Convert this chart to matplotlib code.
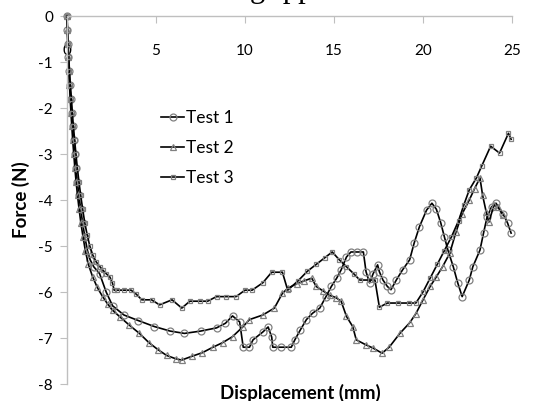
import matplotlib
matplotlib.use("Agg")
import matplotlib.pyplot as plt
from matplotlib.ticker import FixedLocator

plt.rcParams['font.family'] = ['Lato', 'DejaVu Sans']

# ---------------- data ----------------
test1_x = [0, 0.02, 0.05, 0.08, 0.12, 0.16, 0.21, 0.26, 0.31, 0.37, 0.43, 0.5, 0.58, 0.67,
           0.77, 0.88, 1.0, 1.15, 1.3, 1.5, 1.83, 2.2, 2.56, 3.2, 4.0, 4.9, 5.8, 6.6, 7.5, 8.4,
           8.9, 9.3, 9.7, 9.9, 10.25, 10.45, 11.0, 11.3, 11.5, 11.56, 12.0, 12.6, 12.8, 13.1,
           13.45, 13.8, 14.2, 14.55, 14.85, 15.15, 15.4, 15.7, 15.95, 16.3, 16.65, 16.8, 17.0,
           17.2, 17.45, 17.55, 17.75, 18.0, 18.2, 18.5, 18.85, 19.25, 19.5, 19.8, 20.2, 20.5,
           20.75, 21.0, 21.2, 21.4, 21.7, 21.95, 22.2, 22.6, 22.8, 23.2, 23.4, 23.6, 23.85,
           24.1, 24.5, 24.75, 24.95]
test1_y = [0, -0.3, -0.6, -0.9, -1.2, -1.5, -1.8, -2.1, -2.4, -2.7, -3.0, -3.3, -3.6, -3.9,
           -4.2, -4.5, -4.8, -5.1, -5.3, -5.45, -5.6, -6.0, -6.3, -6.5, -6.62, -6.75, -6.85,
           -6.9, -6.85, -6.78, -6.68, -6.52, -6.65, -7.2, -7.2, -7.04, -6.87, -6.76, -6.98,
           -7.2, -7.2, -7.2, -7.04, -6.83, -6.6, -6.46, -6.35, -6.1, -5.88, -5.7, -5.52, -5.24,
           -5.13, -5.13, -5.13, -5.56, -5.8, -5.6, -5.41, -5.56, -5.74, -5.88, -5.95, -5.74,
           -5.52, -5.3, -4.94, -4.58, -4.22, -4.07, -4.2, -4.5, -4.8, -5.09, -5.45, -5.8, -6.1,
           -5.74, -5.45, -5.09, -4.72, -4.37, -4.15, -4.07, -4.3, -4.5, -4.72]

test2_x = [0, 0.02, 0.04, 0.07, 0.1, 0.14, 0.18, 0.22, 0.27, 0.32, 0.38, 0.44, 0.51, 0.59,
           0.68, 0.78, 0.9, 1.03, 1.2, 1.44, 1.7, 2.0, 2.3, 2.57, 3.0, 3.5, 4.07, 4.6, 5.1,
           5.6, 6.1, 6.44, 7.0, 7.6, 8.2, 8.75, 9.3, 9.9, 10.25, 11.0, 11.65, 12.1, 12.4, 12.9,
           13.3, 13.75, 14.0, 14.4, 14.75, 15.1, 15.4, 15.7, 16.05, 16.25, 16.8, 17.2, 17.7,
           18.1, 18.7, 19.25, 19.6, 20.0, 20.4, 20.75, 21.1, 21.5, 21.85, 22.2, 22.6, 22.9,
           23.2, 23.35, 23.55, 23.7, 24.0, 24.2, 24.5]
test2_y = [0, -0.3, -0.6, -0.9, -1.2, -1.5, -1.8, -2.1, -2.4, -2.7, -3.0, -3.3, -3.6, -3.9,
           -4.2, -4.5, -4.8, -5.1, -5.4, -5.67, -5.9, -6.1, -6.27, -6.4, -6.55, -6.72, -6.9,
           -7.1, -7.25, -7.38, -7.45, -7.48, -7.4, -7.32, -7.2, -7.1, -6.97, -6.75, -6.6,
           -6.5, -6.35, -6.03, -5.92, -5.82, -5.76, -5.7, -5.88, -5.98, -6.07, -6.12, -6.2,
           -6.53, -6.75, -7.04, -7.15, -7.22, -7.33, -7.2, -6.9, -6.67, -6.47, -6.17, -5.88,
           -5.67, -5.45, -5.16, -4.7, -4.3, -4.0, -3.75, -3.52, -3.9, -4.26, -4.48, -4.1,
           -4.15, -4.33]

test3_x = [0, 0.03, 0.06, 0.1, 0.14, 0.19, 0.25, 0.3, 0.36, 0.43, 0.5, 0.58, 0.67, 0.77,
           0.88, 1.0, 1.13, 1.28, 1.45, 1.65, 1.85, 2.0, 2.2, 2.4, 2.55, 2.65, 2.8, 3.2, 3.6,
           3.9, 4.2, 4.75, 5.2, 5.9, 6.45, 6.9, 7.45, 7.9, 8.4, 8.95, 9.5, 10.0, 10.4, 11.0,
           11.5, 12.1, 12.4, 13.0, 13.5, 14.0, 14.5, 14.9, 15.3, 15.7, 16.1, 16.45, 17.0,
           17.3, 17.55, 18.0, 18.6, 19.2, 19.6, 20.0, 20.4, 20.8, 21.2, 21.6, 22.0, 22.3,
           22.6, 23.0, 23.3, 23.8, 24.3, 24.8, 24.95]
test3_y = [0, -0.3, -0.6, -0.9, -1.2, -1.5, -1.8, -2.1, -2.4, -2.7, -3.0, -3.3, -3.6, -3.9,
           -4.2, -4.5, -4.75, -5.0, -5.2, -5.35, -5.45, -5.52, -5.6, -5.67, -5.8, -5.96,
           -5.96, -5.96, -5.96, -6.05, -6.17, -6.17, -6.28, -6.17, -6.35, -6.2, -6.2, -6.2,
           -6.1, -6.1, -6.1, -5.96, -5.96, -5.8, -5.57, -5.57, -5.96, -5.75, -5.55, -5.4,
           -5.25, -5.13, -5.3, -5.45, -5.6, -5.74, -5.74, -5.74, -6.33, -6.24, -6.24, -6.24,
           -6.24, -6.0, -5.7, -5.4, -5.1, -4.8, -4.45, -4.1, -3.78, -3.52, -3.26, -2.83,
           -2.98, -2.55, -2.68]

x_ticks = [0, 5, 10, 15, 20, 25]
y_ticks = [0, -1, -2, -3, -4, -5, -6, -7, -8]
labels = ["Test 1", "Test 2", "Test 3"]

# ---------------- figure ----------------
fig = plt.figure(figsize=(5.41, 4.01), dpi=100)
ax = fig.add_axes([67 / 541, 1 - 384 / 401, 445 / 541, 368 / 401])
ax.set_axisbelow(True)

mec = '#808080'
ax.plot(test1_x, test1_y, color='black', lw=1.2, marker='o', ms=5, mfc='none',
        mec=mec, mew=0.9, label=labels[0], clip_on=False)
ax.plot(test2_x, test2_y, color='black', lw=1.2, marker='^', ms=4.8, mfc='none',
        mec=mec, mew=0.9, label=labels[1], clip_on=False)
ax.plot(test3_x, test3_y, color='black', lw=1.2, marker='s', ms=2.8, mfc='none',
        mec=mec, mew=0.9, label=labels[2], clip_on=False)

ax.set_xlim(0, 25)
ax.set_ylim(-8, 0)
ax.xaxis.set_major_locator(FixedLocator(x_ticks))
ax.yaxis.set_major_locator(FixedLocator(y_ticks))
ax.set_yticklabels([str(v) for v in y_ticks])
ax.set_xticklabels([str(v) for v in x_ticks])

for s in ['bottom', 'right']:
    ax.spines[s].set_visible(False)
for s in ['top', 'left']:
    ax.spines[s].set_color('#bfbfbf')
    ax.spines[s].set_linewidth(1.0)

ax.tick_params(axis='x', top=True, bottom=False, labeltop=True, labelbottom=False,
               direction='in', length=5, color='#bfbfbf', pad=-30, labelsize=11)
ax.tick_params(axis='y', direction='out', length=5, color='#bfbfbf', pad=5,
               labelsize=11)

ax.set_xlabel("Displacement (mm)", fontsize=13.5, fontweight='bold')
ax.xaxis.set_label_position('bottom')
ax.xaxis.set_label_coords((300 - 67) / 445, 0.0)
ax.set_ylabel("Force (N)", fontsize=13.5, fontweight='bold')
ax.yaxis.set_label_coords(-(67 - 30) / 445, 0.5)

ax.legend(loc='upper left', bbox_to_anchor=((161 - 67) / 445, 1 - (110 - 16) / 368),
          frameon=False, fontsize=12.5, handlelength=1.35, handletextpad=0.1,
          labelspacing=0.8, borderaxespad=0, borderpad=0)

# partially visible caption text cut off at the top edge
fig.text(250 / 541, 1 + 3 / 401, "gripper", family=['Liberation Serif'], fontsize=22,
         ha='left', va='baseline')

fig.savefig("out.png", dpi=100)
